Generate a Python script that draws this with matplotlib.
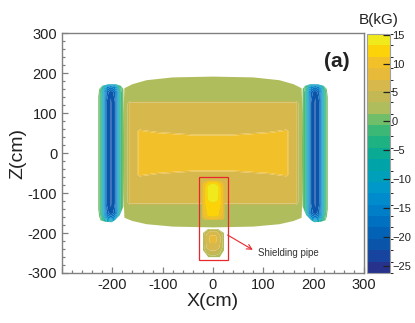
import numpy as np
import matplotlib.pyplot as plt
from matplotlib.colors import ListedColormap, BoundaryNorm
from matplotlib.patches import Polygon, Rectangle
from matplotlib.cm import ScalarMappable
from matplotlib.ticker import MultipleLocator

plt.rcParams['font.family'] = ['Liberation Sans', 'DejaVu Sans']

# colour scale of B (kG): 21 bands
levels = np.linspace(-26.2, 15.1, 22)
band_colors = ['#26328c', '#16449e', '#0a54aa', '#0462b6', '#0070c0', '#007ec8',
               '#008ccc', '#0098c8', '#00a0ba', '#00a4a8', '#0aaa94', '#1eb282',
               '#3cb876', '#70be6a', '#b0bd5c', '#c4b854', '#d6b84c', '#e8ba3a',
               '#f2c028', '#fcd208', '#f0ea1c']
cbar_ticks = [15, 10, 5, 0, -5, -10, -15, -20, -25]

# iron yoke (body) field
body_x = [-180, -171, -165, -152, -146, -110, -40, 0, 40, 110, 146, 152, 165, 171, 180]
body_z = [195, 132, 124, 60, 54, 48, 42, 0, -42, -48, -54, -60, -124, -132, -195]
O, T, Y = 2.3, 6.3, 10.3
body_B = [
    [O, O, O, O, O, O, O, O, O, O, O, O, O, O, O],
    [O, O, O, O, O, O, O, O, O, O, O, O, O, O, O],
    [O, O, T, T, T, T, T, T, T, T, T, T, T, O, O],
    [O, O, T, T, T, T, T, T, T, T, T, T, T, O, O],
    [O, O, T, T, Y, T, T, T, T, T, Y, T, T, O, O],
    [O, O, T, T, Y, Y, T, T, T, Y, Y, T, T, O, O],
    [O, O, T, T, Y, Y, Y, Y, Y, Y, Y, T, T, O, O],
    [O, O, T, T, Y, Y, Y, Y, Y, Y, Y, T, T, O, O],
    [O, O, T, T, Y, Y, Y, Y, Y, Y, Y, T, T, O, O],
    [O, O, T, T, Y, Y, T, T, T, Y, Y, T, T, O, O],
    [O, O, T, T, Y, T, T, T, T, T, Y, T, T, O, O],
    [O, O, T, T, T, T, T, T, T, T, T, T, T, O, O],
    [O, O, T, T, T, T, T, T, T, T, T, T, T, O, O],
    [O, O, O, O, O, O, O, O, O, O, O, O, O, O, O],
    [O, O, O, O, O, O, O, O, O, O, O, O, O, O, O],
]
body_edge_x = [-176, -160, -132, -80, 0, 80, 132, 160, 176, 178, 179, 178, 176,
               160, 132, 80, 0, -80, -132, -160, -176, -178, -179, -178]
body_edge_z = [162, 172, 182, 189, 191, 189, 182, 172, 162, 100, 0, -100, -162,
               -170, -178, -184, -186, -184, -178, -170, -162, -100, 0, 100]

# coils, offsets from coil centre
coil_center = 203
coil_dx = [-27, -21, -17, -13, -8, 0, 8, 13, 17, 21, 27]
coil_z = [176, 166, 152, 125, 0, -125, -150, -162, -176]
coil_B = [
    [1, 1, 0, -2, -4, -5, -4, -2, 0, 1, 1],
    [1, 0, -4, -9, -14, -16, -14, -9, -4, 0, 1],
    [1, -1, -7, -14, -19, -22, -19, -14, -7, -1, 1],
    [1, -1, -7, -14, -20.5, -22.5, -20.5, -14, -7, -1, 1],
    [1, -1, -7, -14, -20.5, -22.5, -20.5, -14, -7, -1, 1],
    [1, -1, -7, -14, -20.5, -22.5, -20.5, -14, -7, -1, 1],
    [1, -1, -7, -14, -19, -22, -19, -14, -7, -1, 1],
    [1, 0, -4, -9, -14, -16, -14, -9, -4, 0, 1],
    [1, 1, 0, -2, -4, -5, -4, -2, 0, 1, 1],
]
coil_edge_dx = [-25, -20, -10, 5, 17, 23, 25, 25, 23, 20, 10, -2, -8, -18, -25, -26]
coil_edge_z = [160, 168, 172, 172, 168, 160, 140, -140, -160, -169, -172, -173,
               -168, -155, -134, 0]

# shielding pipe
pipe_x = [-23, -15, -8, 0, 8, 15, 23]
pipe_z = [-68, -76, -86, -100, -114, -126, -140, -156, -168]
pipe_B = [
    [7, 8, 9, 9, 9, 8, 7],
    [8, 10.5, 12.5, 13, 12.5, 10.5, 8],
    [8, 11.5, 14.5, 14.8, 14.5, 11.5, 8],
    [8, 11.5, 14.5, 14.8, 14.5, 11.5, 8],
    [8, 11.5, 14, 14.2, 14, 11.5, 8],
    [8, 11.5, 12.5, 12.8, 12.5, 11.5, 8],
    [8, 11, 12, 12.2, 12, 11, 8],
    [8, 10.5, 11.8, 12, 11.8, 10.5, 8],
    [7, 8, 9, 9, 9, 8, 7],
]
pipe_edge_x = [-22, -18, -10, 10, 18, 23, 24, 20, -18, -22]
pipe_edge_z = [-80, -72, -68, -68, -72, -80, -160, -167, -167, -160]

blob_x = [-20, -12, -5, 5, 12, 22]
blob_z = [-190, -198, -208, -222, -236, -250, -261]
blob_B = [
    [2.3, 2.3, 3, 3, 2.3, 2.3],
    [2.3, 4.5, 6.3, 6.3, 4.5, 2.3],
    [2.3, 6.3, 7.5, 7.5, 6.3, 2.3],
    [2.3, 6.3, 7.5, 7.5, 6.3, 2.3],
    [2.3, 5.5, 6.3, 6.3, 5.5, 2.3],
    [2.3, 3.5, 4.5, 4.5, 3.5, 2.3],
    [2.3, 2.3, 2.3, 2.3, 2.3, 2.3],
]
blob_edge_x = [-10, 10, 22, 22, 13, -9, -20, -20]
blob_edge_z = [-190, -190, -200, -243, -261, -261, -243, -200]

# annotation
box_x, box_z, box_w, box_h = -27, -267, 56, 208
arrow_from = (29, -205)
arrow_to = (79, -242)
label_pos = (89, -249)

xtick_vals = [-300, -200, -100, 0, 100, 200, 300]
xtick_labels = ['', '-200', '-100', '0', '100', '200', '300']
ytick_vals = [-300, -200, -100, 0, 100, 200, 300]
ytick_labels = ['-300', '-200', '-100', '0', '100', '200', '300']

cmap = ListedColormap(band_colors)
norm = BoundaryNorm(levels, cmap.N)

fig = plt.figure(figsize=(4.15, 3.23), dpi=100)
ax = fig.add_axes([0.1494, 0.1548, 0.7277, 0.7430])
cax = fig.add_axes([0.8843, 0.1548, 0.0554, 0.7399])


def draw_region(xs, zs, vals, edge_x, edge_z):
    cs = ax.contourf(xs, zs, np.array(vals), levels=levels, cmap=cmap, norm=norm,
                     antialiased=True)
    clip = Polygon(np.column_stack([edge_x, edge_z]), closed=True,
                   transform=ax.transData)
    cs.set_clip_path(clip)
    return cs


draw_region(body_x, body_z, body_B, body_edge_x, body_edge_z)
for side in (-1, 1):
    cx = [side * coil_center + side * d for d in coil_dx]
    ex = [side * coil_center + side * d for d in coil_edge_dx]
    draw_region(cx, coil_z, coil_B, ex, coil_edge_z)
draw_region(pipe_x, pipe_z, pipe_B, pipe_edge_x, pipe_edge_z)
draw_region(blob_x, blob_z, blob_B, blob_edge_x, blob_edge_z)

ax.add_patch(Rectangle((box_x, box_z), box_w, box_h, fill=False,
                       edgecolor='#e8282c', lw=0.9, zorder=5))
ax.annotate('', xy=arrow_to, xytext=arrow_from,
            arrowprops=dict(arrowstyle='->,head_length=0.35,head_width=0.18',
                            color='#e8282c', lw=0.8, shrinkA=0, shrinkB=0),
            zorder=5)
ax.text(label_pos[0], label_pos[1], 'Shielding pipe', fontsize=7,
        color='#333333', va='center', ha='left')
ax.text(246, 230, '(a)', fontsize=15, fontweight='bold', ha='center',
        va='center', color='#222222')

ax.set_xlim(-300, 300)
ax.set_ylim(-300, 300)
ax.set_xticks(xtick_vals)
ax.set_xticklabels(xtick_labels)
ax.set_yticks(ytick_vals)
ax.set_yticklabels(ytick_labels)
ax.xaxis.set_minor_locator(MultipleLocator(20))
ax.yaxis.set_minor_locator(MultipleLocator(20))
ax.tick_params(which='both', direction='in', top=False, right=False,
               color='#808080', width=0.9, labelsize=10.5,
               labelcolor='#222222', pad=3.5)
ax.tick_params(which='major', length=4)
ax.tick_params(which='minor', length=2.2)
for sp in ax.spines.values():
    sp.set_color('#808080')
    sp.set_linewidth(1.0)
ax.set_xlabel('X(cm)', fontsize=14, color='#222222', labelpad=1)
ax.set_ylabel('Z(cm)', fontsize=14, color='#222222', labelpad=1)

cb = fig.colorbar(ScalarMappable(norm=norm, cmap=cmap), cax=cax, ticks=cbar_ticks)
cb.outline.set_edgecolor('#a0a0a0')
cb.outline.set_linewidth(0.8)
cax.tick_params(direction='in', length=5, width=0.9, color='#222222',
                labelsize=8, pad=1.5, labelcolor='#222222')
cax.set_title('B(kG)', fontsize=11, color='#222222', pad=7)

fig.savefig('out.png', dpi=100)
